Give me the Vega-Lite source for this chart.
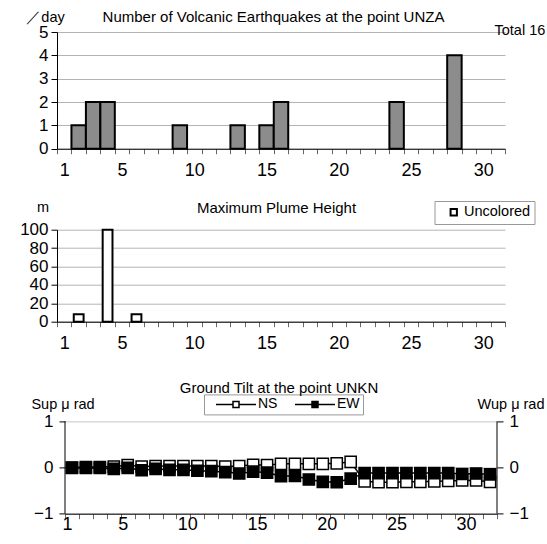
{
  "$schema": "https://vega.github.io/schema/vega-lite/v6.json",
  "background": "white",
  "padding": {"left": 19, "top": 9, "right": 0, "bottom": 0},
  "config": {
    "font": "Liberation Sans",
    "view": {"stroke": null},
    "axis": {"labelFont": "Liberation Sans", "titleFont": "Liberation Sans", "labelColor": "black", "titleColor": "black", "domainColor": "black", "tickColor": "black", "titleFontWeight": "normal", "labelOverlap": false},
    "legend": {"labelFont": "Liberation Sans", "labelColor": "black"},
    "title": {"font": "Liberation Sans", "fontWeight": "normal", "color": "black", "fontSize": 15, "frame": "group"}
  },
  "datasets": {
    "quakes": [
      {"day": 2, "count": 1}, {"day": 3, "count": 2}, {"day": 4, "count": 2},
      {"day": 9, "count": 1}, {"day": 13, "count": 1}, {"day": 15, "count": 1},
      {"day": 16, "count": 2}, {"day": 24, "count": 2}, {"day": 28, "count": 4}
    ],
    "plume": [
      {"day": 2, "height": 8, "type": "Uncolored"},
      {"day": 4, "height": 100, "type": "Uncolored"},
      {"day": 6, "height": 8, "type": "Uncolored"}
    ],
    "tilt": [
      {"day": 1, "series": "NS", "value": 0.0}, {"day": 2, "series": "NS", "value": 0.01}, {"day": 3, "series": "NS", "value": 0.01},
      {"day": 4, "series": "NS", "value": 0.02}, {"day": 5, "series": "NS", "value": 0.05}, {"day": 6, "series": "NS", "value": 0.02},
      {"day": 7, "series": "NS", "value": 0.03}, {"day": 8, "series": "NS", "value": 0.03}, {"day": 9, "series": "NS", "value": 0.03},
      {"day": 10, "series": "NS", "value": 0.03}, {"day": 11, "series": "NS", "value": 0.03}, {"day": 12, "series": "NS", "value": 0.02},
      {"day": 13, "series": "NS", "value": 0.03}, {"day": 14, "series": "NS", "value": 0.06}, {"day": 15, "series": "NS", "value": 0.05},
      {"day": 16, "series": "NS", "value": 0.08}, {"day": 17, "series": "NS", "value": 0.08}, {"day": 18, "series": "NS", "value": 0.08},
      {"day": 19, "series": "NS", "value": 0.08}, {"day": 20, "series": "NS", "value": 0.09}, {"day": 21, "series": "NS", "value": 0.12},
      {"day": 22, "series": "NS", "value": -0.3}, {"day": 23, "series": "NS", "value": -0.32}, {"day": 24, "series": "NS", "value": -0.32},
      {"day": 25, "series": "NS", "value": -0.31}, {"day": 26, "series": "NS", "value": -0.31}, {"day": 27, "series": "NS", "value": -0.3},
      {"day": 28, "series": "NS", "value": -0.29}, {"day": 29, "series": "NS", "value": -0.28}, {"day": 30, "series": "NS", "value": -0.28},
      {"day": 31, "series": "NS", "value": -0.31},
      {"day": 1, "series": "EW", "value": -0.01}, {"day": 2, "series": "EW", "value": -0.01}, {"day": 3, "series": "EW", "value": -0.01},
      {"day": 4, "series": "EW", "value": -0.03}, {"day": 5, "series": "EW", "value": -0.01}, {"day": 6, "series": "EW", "value": -0.06},
      {"day": 7, "series": "EW", "value": -0.03}, {"day": 8, "series": "EW", "value": -0.05}, {"day": 9, "series": "EW", "value": -0.05},
      {"day": 10, "series": "EW", "value": -0.07}, {"day": 11, "series": "EW", "value": -0.08}, {"day": 12, "series": "EW", "value": -0.1},
      {"day": 13, "series": "EW", "value": -0.13}, {"day": 14, "series": "EW", "value": -0.09}, {"day": 15, "series": "EW", "value": -0.11},
      {"day": 16, "series": "EW", "value": -0.19}, {"day": 17, "series": "EW", "value": -0.18}, {"day": 18, "series": "EW", "value": -0.26},
      {"day": 19, "series": "EW", "value": -0.31}, {"day": 20, "series": "EW", "value": -0.32}, {"day": 21, "series": "EW", "value": -0.24},
      {"day": 22, "series": "EW", "value": -0.12}, {"day": 23, "series": "EW", "value": -0.12}, {"day": 24, "series": "EW", "value": -0.12},
      {"day": 25, "series": "EW", "value": -0.12}, {"day": 26, "series": "EW", "value": -0.12}, {"day": 27, "series": "EW", "value": -0.12},
      {"day": 28, "series": "EW", "value": -0.12}, {"day": 29, "series": "EW", "value": -0.14}, {"day": 30, "series": "EW", "value": -0.13},
      {"day": 31, "series": "EW", "value": -0.15}
    ]
  },
  "spacing": 80.7,
  "bounds": "flush",
  "center": true,
  "resolve": {"scale": {"color": "independent", "fill": "independent"}, "legend": {"color": "independent", "fill": "independent"}},
  "vconcat": [
    {
      "width": 448,
      "height": 116.7,
      "title": {"text": "Number of Volcanic Earthquakes at the point UNZA", "anchor": "middle", "dx": -7.5, "dy": 20, "offset": 4},
      "data": {"name": "quakes"},
      "layer": [
        {
          "mark": {"type": "bar", "fill": "#8c8c8c", "stroke": "black", "strokeWidth": 2},
          "encoding": {
            "x": {"field": "day", "type": "ordinal",
              "scale": {"domain": [1,2,3,4,5,6,7,8,9,10,11,12,13,14,15,16,17,18,19,20,21,22,23,24,25,26,27,28,29,30,31], "paddingInner": 0, "paddingOuter": 0},
              "axis": {"title": null, "labelAngle": 0, "labelExpr": "indexof([1,5,10,15,20,25,30], datum.value) >= 0 ? datum.label : ''", "tickBand": "extent", "tickSize": 5, "tickColor": "#666666", "labelFontSize": 18, "labelPadding": 8, "grid": false}},
            "y": {"field": "count", "type": "quantitative",
              "scale": {"domain": [0, 5], "nice": false},
              "axis": {"values": [0,1,2,3,4,5], "format": "d", "grid": true, "gridColor": "#b4b4b4", "tickSize": 6, "labelFontSize": 17, "labelPadding": 3,
                "title": "／day", "titleAngle": 0, "titleAlign": "center", "titleBaseline": "alphabetic", "titleX": -12, "titleY": -11, "titleFontSize": 14.5}}
          }
        },
        {
          "mark": {"type": "point", "opacity": 0},
          "encoding": {
            "x": {"field": "day", "type": "ordinal"},
            "y": {"field": "count", "type": "quantitative",
              "axis": {"orient": "right", "domain": false, "ticks": false, "labels": false, "grid": false,
                "title": "Total 16", "titleAngle": 0, "titleAlign": "left", "titleBaseline": "alphabetic", "titleX": -11, "titleY": 2, "titleFontSize": 14.5}}
          }
        }
      ],
      "resolve": {"axis": {"y": "independent"}}
    },
    {
      "width": 448,
      "height": 92,
      "title": {"text": "Maximum Plume Height", "anchor": "middle", "dx": -4.5, "dy": 20, "offset": 4},
      "data": {"name": "plume"},
      "mark": {"type": "bar", "stroke": "black", "strokeWidth": 2, "width": {"band": 0.68}},
      "encoding": {
        "x": {"field": "day", "type": "ordinal",
          "scale": {"domain": [1,2,3,4,5,6,7,8,9,10,11,12,13,14,15,16,17,18,19,20,21,22,23,24,25,26,27,28,29,30,31], "paddingInner": 0, "paddingOuter": 0},
          "axis": {"title": null, "labelAngle": 0, "labelExpr": "indexof([1,5,10,15,20,25,30], datum.value) >= 0 ? datum.label : ''", "tickBand": "extent", "tickSize": 5, "tickColor": "#666666", "labelFontSize": 18, "labelPadding": 8, "grid": false}},
        "y": {"field": "height", "type": "quantitative",
          "scale": {"domain": [0, 100], "nice": false},
          "axis": {"values": [0,20,40,60,80,100], "format": "d", "grid": true, "gridColor": "#b4b4b4", "tickSize": 6, "labelFontSize": 17, "labelPadding": 3,
            "title": "m", "titleAngle": 0, "titleAlign": "center", "titleBaseline": "alphabetic", "titleX": -14.5, "titleY": -18, "titleFontSize": 14.5}},
        "fill": {"field": "type", "type": "nominal", "scale": {"domain": ["Uncolored"], "range": ["white"]},
          "legend": {"title": null, "orient": "none", "legendX": 377.5, "legendY": -28.7, "strokeColor": "#999999", "padding": 4,
            "symbolType": "square", "symbolSize": 40, "symbolStrokeColor": "black", "symbolStrokeWidth": 2, "symbolOffset": 8, "labelFontSize": 14.5, "labelOffset": 3}}
      }
    },
    {
      "width": 432,
      "height": 111.3,
      "title": {"text": "Ground Tilt at the point UNKN", "anchor": "middle", "dx": -2, "dy": 6, "offset": 4},
      "layer": [
        {
          "data": {"values": [{"day": 1, "low": -1, "high": 1}]},
          "mark": {"type": "rule", "color": "black", "strokeWidth": 1},
          "encoding": {
            "x": {"field": "day", "type": "ordinal", "bandPosition": 0},
            "y": {"field": "low", "type": "quantitative", "axis": null},
            "y2": {"field": "high"}
          }
        },
        {
          "data": {"values": [{"day": 31, "low": -1, "high": 1}]},
          "mark": {"type": "rule", "color": "black", "strokeWidth": 1},
          "encoding": {
            "x": {"field": "day", "type": "ordinal", "bandPosition": 1},
            "y": {"field": "low", "type": "quantitative", "axis": null},
            "y2": {"field": "high"}
          }
        },
        {
          "data": {"name": "tilt"},
          "mark": {"type": "line", "color": "black", "strokeWidth": 1.5},
          "encoding": {
            "x": {"field": "day", "type": "ordinal",
              "scale": {"domain": [1,2,3,4,5,6,7,8,9,10,11,12,13,14,15,16,17,18,19,20,21,22,23,24,25,26,27,28,29,30,31], "paddingInner": 0, "paddingOuter": 0},
              "axis": {"title": null, "labelAngle": 0, "labelExpr": "indexof([1,5,10,15,20,25,30], datum.value) >= 0 ? datum.label : ''", "tickBand": "extent", "tickSize": 5, "tickColor": "#666666", "labelFontSize": 18, "labelPadding": 6, "grid": false}},
            "y": {"field": "value", "type": "quantitative",
              "scale": {"domain": [-1, 1.409], "nice": false},
              "axis": {"values": [-1, 0, 1], "format": "d", "domain": false, "grid": true, "gridColor": "#c8c8c8", "tickSize": 6, "labelFontSize": 17, "labelPadding": 6,
                "title": "Sup μ rad", "titleAngle": 0, "titleAlign": "center", "titleBaseline": "alphabetic", "titleX": -2.5, "titleY": 6.5, "titleFontSize": 14.5}},
            "detail": {"field": "series"}
          }
        },
        {
          "data": {"name": "tilt"},
          "mark": {"type": "point", "shape": "square", "filled": true, "size": 125, "stroke": "black", "strokeWidth": 1.5, "opacity": 1},
          "encoding": {
            "x": {"field": "day", "type": "ordinal"},
            "y": {"field": "value", "type": "quantitative",
              "axis": {"orient": "right", "values": [-1, 0, 1], "format": "d", "domain": false, "grid": false, "tickSize": 6, "labelFontSize": 17, "labelPadding": 6,
                "title": "Wup μ rad", "titleAngle": 0, "titleAlign": "center", "titleBaseline": "alphabetic", "titleX": 13.5, "titleY": 6.5, "titleFontSize": 14.5}},
            "color": {"field": "series", "type": "nominal", "scale": {"domain": ["NS", "EW"], "range": ["white", "black"]},
              "legend": {"title": null, "orient": "none", "direction": "horizontal", "legendX": 139, "legendY": -8, "strokeColor": "#999999", "padding": 3,
                "symbolType": "M0.4,0H3.8M5,0H8.4M3.8,-0.6H5V0.6H3.8Z", "symbolSize": 100, "symbolStrokeColor": "black", "symbolStrokeWidth": 1.5, "symbolOpacity": 1,
                "labelFontSize": 14, "labelOffset": 37, "columnPadding": 8}}
          }
        }
      ],
      "resolve": {"axis": {"y": "independent"}}
    }
  ]
}
